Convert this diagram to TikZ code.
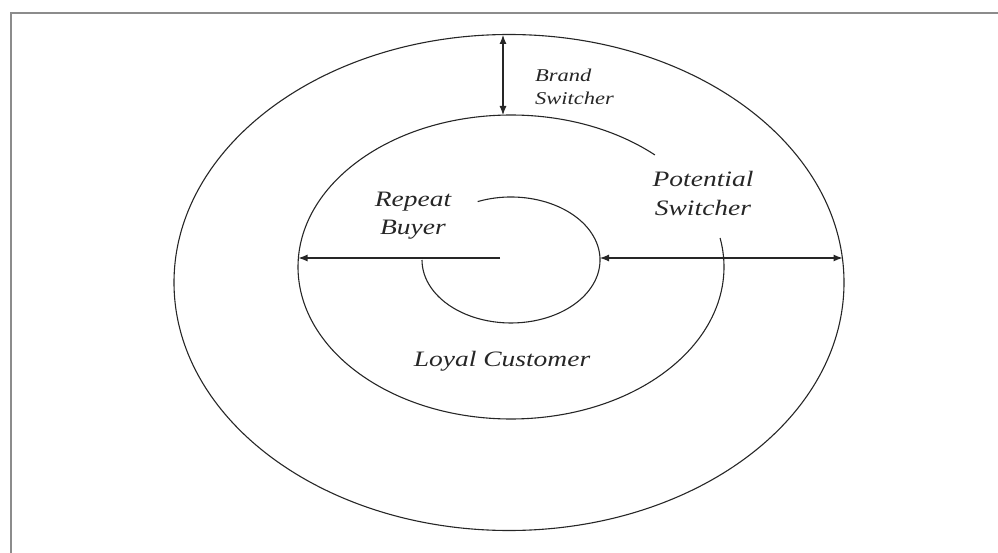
\documentclass[tikz,border=0pt]{standalone}
\usepackage{fontspec}
\setmainfont{Liberation Serif}
\usetikzlibrary{arrows.meta}
\newcommand{\wide}[1]{\scalebox{1.25}[1]{#1}}
\tikzset{
  ring/.style={draw=black!85, line width=1.1pt},
  arrowline/.style={draw=black!85, line width=1.1pt},
  tip/.style={-{Latex[length=9pt,width=7pt]}},
  twotip/.style={{Latex[length=9pt,width=7pt]}-{Latex[length=9pt,width=7pt]}},
  lbl/.style={text=black!85, inner sep=0pt, align=center},
  frameline/.style={draw=black!45, line width=2pt}
}
\begin{document}
\begin{tikzpicture}[x=1pt,y=-1pt]
\useasboundingbox (0,0) rectangle (998,553);
% frame (only top and left visible)
\coordinate (fTR) at (998,13.5);
\coordinate (fTL) at (10.5,13.5);
\coordinate (fBL) at (10.5,553);
\draw[frameline] (fTR) -- (fTL) -- (fBL);
% ellipse centres
\coordinate (cO) at (509,282.5);
\coordinate (cM) at (511,267);
\coordinate (cI) at (511,260);
% outer ellipse
\draw[ring] (cO) ellipse[x radius=335, y radius=248];
% middle ellipse (open near Potential Switcher)
\draw[ring] (cM) ++(-47.5:213 and 152) arc[start angle=-47.5, end angle=-371, x radius=213, y radius=152];
% inner ellipse (open near Repeat Buyer)
\draw[ring] (cI) ++(-112:89 and 63) arc[start angle=-112, end angle=180, x radius=89, y radius=63];
% arrow coordinates
\coordinate (rbStart) at (500,258);
\coordinate (rbEnd) at (298.5,258);
\coordinate (psL) at (600,258);
\coordinate (psR) at (842.5,258);
\coordinate (bsTop) at (503,35);
\coordinate (bsBot) at (503,115);
\draw[arrowline, tip] (rbStart) -- (rbEnd);
\draw[arrowline, twotip] (psL) -- (psR);
\draw[arrowline, twotip] (bsTop) -- (bsBot);
% labels (anchor base = baseline of last line)
\node[lbl, anchor=base west, align=left, font=\fontsize{18}{23}\selectfont\itshape] (brand) at (535,105) {\wide{Brand}\\\wide{Switcher}};
\node[lbl, anchor=base, font=\fontsize{22}{28}\selectfont\itshape] (repeat) at (413,235) {\wide{Repeat}\\\wide{Buyer}};
\node[lbl, anchor=base, font=\fontsize{22}{29}\selectfont\itshape] (potential) at (703,216) {\wide{Potential}\\\wide{Switcher}};
\node[lbl, anchor=base, font=\fontsize{22}{28}\selectfont\itshape] (loyal) at (502,366) {\wide{Loyal Customer}};
\end{tikzpicture}
\end{document}
